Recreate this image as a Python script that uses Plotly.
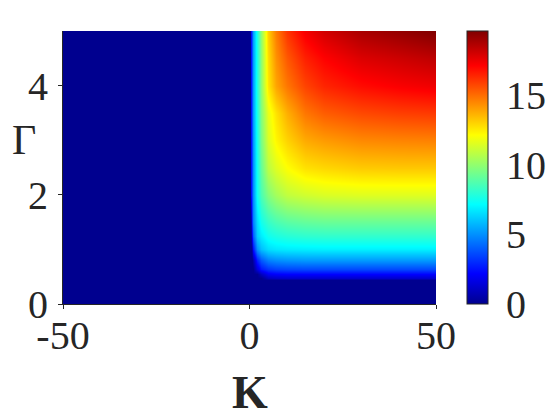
import plotly.graph_objects as go

# K (x) and Gamma (y) sample points
k_vals = [-50, 0, 0.3, 0.6, 1, 2, 3, 5, 7, 10, 15, 20, 30, 40, 50]
gamma_vals = [0, 0.44, 0.48, 0.55, 0.65, 0.8, 1.0, 1.25, 1.5, 2.0, 2.5, 3.0, 3.5, 4.0, 4.5, 5.0]

# one row per gamma value, columns follow k_vals
z_rows = [
    [0, 0, 0, 0, 0, 0, 0, 0, 0, 0, 0, 0, 0, 0, 0],
    [0, 0, 0, 0, 0, 0, 0, 0, 0, 0, 0, 0, 0, 0, 0],
    [0, 0, 0, 0, 0, 0, 0, 0.9, 1.1, 1.2, 1.2, 1.2, 1.2, 1.2, 1.2],
    [0, 0, 0, 0, 0, 0, 0.9, 1.9, 2.1, 2.2, 2.2, 2.2, 2.2, 2.2, 2.2],
    [0, 0, 0, 0, 0, 1.5, 2.6, 3.2, 3.45, 3.55, 3.6, 3.6, 3.6, 3.6, 3.6],
    [0, 0, 0, 0, 0.6, 2.8, 3.9, 4.7, 4.95, 5.1, 5.2, 5.2, 5.2, 5.2, 5.2],
    [0, 0, 0, 0.8, 2.5, 5.0, 5.9, 6.5, 6.7, 6.8, 6.85, 6.9, 6.9, 6.9, 6.9],
    [0, 0, 0.4, 2.4, 4.0, 6.2, 6.8, 7.45, 7.7, 7.9, 8.05, 8.1, 8.1, 8.1, 8.1],
    [0, 0, 0.8, 3.2, 4.7, 6.5, 7.5, 8.2, 8.6, 8.9, 9.1, 9.2, 9.2, 9.2, 9.2],
    [0, 0, 2.5, 3.7, 4.9, 7.4, 8.6, 9.7, 10.35, 10.9, 11.2, 11.4, 11.5, 11.5, 11.5],
    [0, 0, 2.6, 3.7, 5.0, 7.5, 9.1, 10.8, 11.5, 12.1, 12.7, 12.9, 13.15, 13.2, 13.2],
    [0, 0, 2.6, 3.8, 5.1, 7.6, 9.5, 11.4, 12.3, 13.0, 13.8, 14.1, 14.45, 14.55, 14.6],
    [0, 0, 2.6, 3.9, 5.2, 7.7, 9.7, 11.7, 12.7, 13.7, 14.8, 15.3, 15.7, 15.9, 16.0],
    [0, 0, 2.6, 3.9, 5.2, 7.8, 9.9, 12.6, 13.9, 14.8, 15.8, 16.4, 16.9, 17.2, 17.4],
    [0, 0, 2.6, 3.9, 5.2, 7.7, 9.9, 12.8, 14.3, 15.4, 16.5, 17.1, 17.8, 18.1, 18.4],
    [0, 0, 2.6, 3.9, 5.3, 7.7, 10.0, 13.1, 14.7, 16.1, 17.3, 18.0, 18.8, 19.2, 19.6],
]

x_ticks = [-50, 0, 50]
x_labels = ["-50", "0", "50"]
y_ticks = [0, 2, 4]
cb_ticks = [0, 5, 10, 15]
z_max = 19.6

jet = [
    [0.0, "rgb(0,0,143)"],
    [0.111, "rgb(0,0,255)"],
    [0.365, "rgb(0,255,255)"],
    [0.619, "rgb(255,255,0)"],
    [0.873, "rgb(255,0,0)"],
    [1.0, "rgb(128,0,0)"],
]

FONT = "Liberation Serif"
INK = "#262626"
CB_X = 1.083
CB_W = 21

fig = go.Figure(
    go.Heatmap(
        x=k_vals,
        y=gamma_vals,
        z=z_rows,
        zsmooth="best",
        zmin=0,
        zmax=z_max,
        colorscale=jet,
        colorbar=dict(
            x=CB_X,
            xanchor="left",
            xpad=0,
            y=0,
            yanchor="bottom",
            ypad=0,
            len=1,
            thickness=CB_W,
            outlinewidth=1,
            outlinecolor=INK,
            tickvals=cb_ticks,
            ticks="outside",
            ticklen=10,
            tickcolor="rgba(0,0,0,0)",
            tickfont=dict(family=FONT, size=40, color=INK),
        ),
    )
)

# the page body adds an 8px offset, so the figure is 8px smaller than the window
fig.update_layout(
    width=552,
    height=412,
    margin=dict(l=55, r=124, t=23, b=116, autoexpand=False),
    paper_bgcolor="white",
    plot_bgcolor="white",
    xaxis=dict(
        range=[-50, 50],
        tickvals=x_ticks,
        ticktext=x_labels,
        ticks="outside",
        ticklen=4,
        tickcolor=INK,
        ticklabelstandoff=-8,
        showline=True,
        linecolor=INK,
        showgrid=False,
        zeroline=False,
        tickfont=dict(family=FONT, size=40, color=INK),
    ),
    yaxis=dict(
        range=[0, 5],
        tickvals=y_ticks,
        ticks="outside",
        ticklen=4,
        tickcolor=INK,
        ticklabelstandoff=2,
        showline=True,
        linecolor=INK,
        showgrid=False,
        zeroline=False,
        tickfont=dict(family=FONT, size=40, color=INK),
    ),
    annotations=[
        dict(text="Γ", xref="paper", yref="paper", x=-0.105, y=0.6,
             xanchor="center", yanchor="middle",
             showarrow=False, font=dict(family=FONT, size=42, color=INK)),
        dict(text="<b>K</b>", xref="paper", yref="paper", x=0.5, y=-0.325,
             xanchor="center", yanchor="middle",
             showarrow=False, font=dict(family=FONT, size=46, color=INK)),
    ],
)

# small inward ticks on the right edge of the colour bar, as in MATLAB
plot_w = 552 - 55 - 124
bar_right = CB_X + CB_W / plot_w
for v in cb_ticks[1:]:
    fig.add_shape(type="line", xref="paper", yref="paper",
                  x0=bar_right - 3 / plot_w, x1=bar_right,
                  y0=v / z_max, y1=v / z_max,
                  line=dict(color=INK, width=1))

fig.write_html("out.html")
